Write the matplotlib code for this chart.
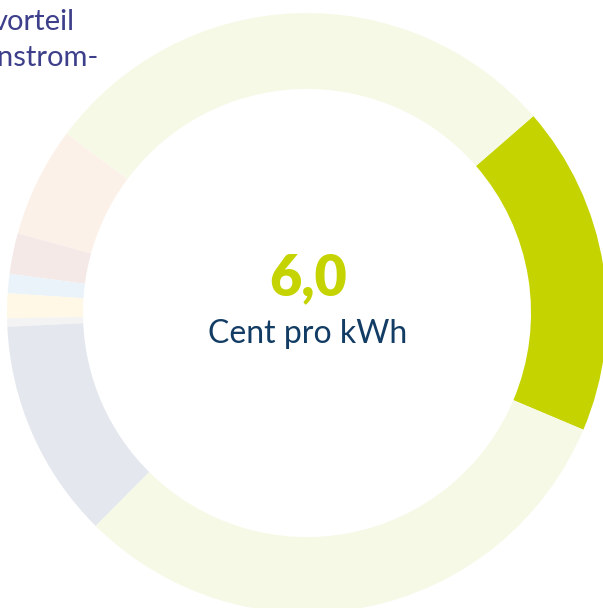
import matplotlib.pyplot as plt

# price components in cent per kWh (counter-clockwise from the green one)
labels = ["Vorteil", "Anteil A", "Anteil B", "Anteil C", "Anteil D",
          "Anteil E", "Anteil F", "Anteil G", "Anteil H"]
values = [6.0, 9.6, 2.0, 0.74, 0.35, 0.45, 0.15, 4.0, 10.5]
colors = ["#c5d400", "#f7f9e7", "#fcf1e9", "#f4e9e7", "#ebf3fa",
          "#fff8e6", "#f3f3f3", "#e4e8ee", "#f7f9e7"]

center_value = "6,0"
center_unit = "Cent pro kWh"
corner_lines = ["vorteil", "nstrom-"]

W, H = 603, 608

fig = plt.figure(figsize=(W / 100, H / 100), dpi=100)
ax = fig.add_axes([0, 0, 1, 1])
ax.pie(
    values,
    colors=colors,
    center=(307, H - 313),
    radius=300,
    startangle=-22.9,
    counterclock=True,
    wedgeprops={"width": 76, "linewidth": 0},
)
ax.set_xlim(0, W)
ax.set_ylim(0, H)
ax.set_aspect("equal")
ax.set_axis_off()

font = ["Lato", "DejaVu Sans"]
ax.text(308, H - 278, center_value, ha="center", va="center", fontsize=40,
        fontweight="heavy", color="#c5d400", family=font)
ax.text(308, H - 334, center_unit, ha="center", va="center", fontsize=23,
        color="#123c64", family=font)

ax.text(75, H - 30, corner_lines[0], ha="right", va="baseline", fontsize=21,
        color="#3d3f8a", family=font)
ax.text(98, H - 66, corner_lines[1], ha="right", va="baseline", fontsize=21,
        color="#3d3f8a", family=font)

fig.savefig("out.png", dpi=100, facecolor="white")
